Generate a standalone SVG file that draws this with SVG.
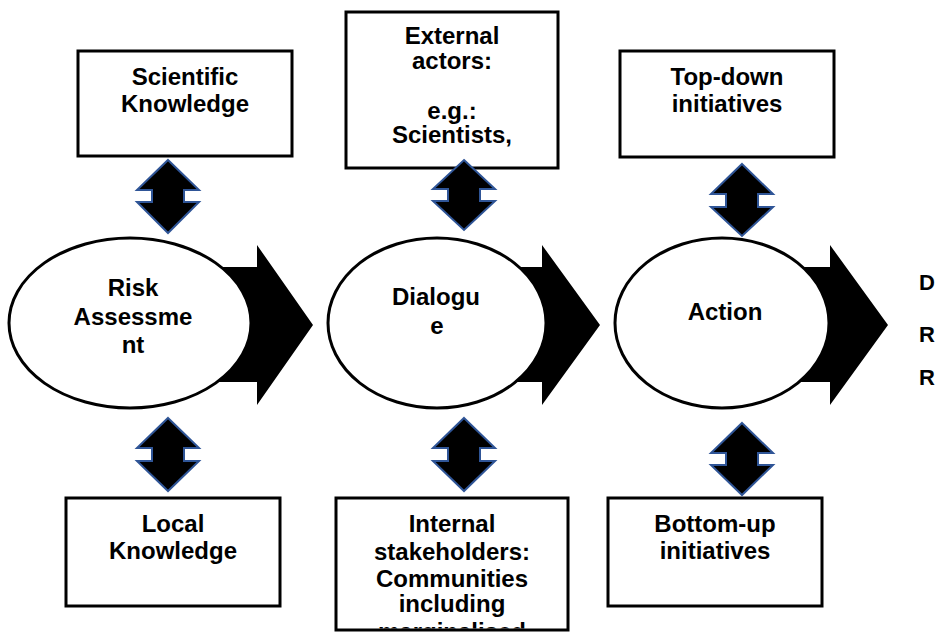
<svg xmlns="http://www.w3.org/2000/svg" width="941" height="638" viewBox="0 0 941 638">
  <defs>
    <style>
      .box { fill: #ffffff; stroke: #000000; stroke-width: 3; }
      .oval { fill: #ffffff; stroke: #000000; stroke-width: 3; }
      .flow { fill: #000000; stroke: none; }
      .link { fill: #000000; stroke: #2F5597; stroke-width: 2; stroke-linejoin: miter; }
      .lbl { font-family: "Liberation Sans", Arial, sans-serif; font-weight: bold; font-size: 24px; fill: #000000; text-anchor: middle; }
      .side { font-family: "Liberation Sans", Arial, sans-serif; font-weight: bold; font-size: 22px; fill: #000000; }
    </style>
    <clipPath id="clip-internal">
      <rect x="337.5" y="499.5" width="229" height="129"/>
    </clipPath>
  </defs>

  <!-- block arrows leading from each stage to the next -->
  <g id="flow-arrows">
    <polygon class="flow" points="130,267 257,267 257,245 313,325 257,405 257,382 130,382"/>
    <polygon class="flow" points="437,267 542,267 542,245 600,325 542,405 542,382 437,382"/>
    <polygon class="flow" points="722,267 830,267 830,245 888,325 830,405 830,382 722,382"/>
  </g>

  <!-- stage ovals -->
  <g id="risk-assessment">
    <ellipse class="oval" cx="130" cy="323" rx="121" ry="85"/>
    <text class="lbl" x="133" y="296">Risk</text>
    <text class="lbl" x="133" y="325">Assessme</text>
    <text class="lbl" x="133" y="353">nt</text>
  </g>
  <g id="dialogue">
    <ellipse class="oval" cx="437" cy="323" rx="109" ry="85"/>
    <text class="lbl" x="436" y="305">Dialogu</text>
    <text class="lbl" x="437" y="334">e</text>
  </g>
  <g id="action">
    <ellipse class="oval" cx="722" cy="323" rx="107" ry="85"/>
    <text class="lbl" x="725" y="320">Action</text>
  </g>

  <!-- upper boxes -->
  <g id="scientific-knowledge">
    <rect class="box" x="78" y="51" width="214" height="105"/>
    <text class="lbl" x="185" y="85">Scientific</text>
    <text class="lbl" x="185" y="112">Knowledge</text>
  </g>
  <g id="external-actors">
    <rect class="box" x="346" y="12" width="212" height="156"/>
    <text class="lbl" x="452" y="44">External</text>
    <text class="lbl" x="452" y="69">actors:</text>
    <text class="lbl" x="452" y="119">e.g.:</text>
    <text class="lbl" x="452" y="143">Scientists,</text>
  </g>
  <g id="top-down">
    <rect class="box" x="620" y="51" width="214" height="106"/>
    <text class="lbl" x="727" y="85">Top-down</text>
    <text class="lbl" x="727" y="112">initiatives</text>
  </g>

  <!-- lower boxes -->
  <g id="local-knowledge">
    <rect class="box" x="66" y="498" width="214" height="108"/>
    <text class="lbl" x="173" y="532">Local</text>
    <text class="lbl" x="173" y="559">Knowledge</text>
  </g>
  <g id="internal-stakeholders">
    <rect class="box" x="336" y="498" width="232" height="132"/>
    <g clip-path="url(#clip-internal)">
      <text class="lbl" x="452" y="532">Internal</text>
      <text class="lbl" x="452" y="560">stakeholders:</text>
      <text class="lbl" x="452" y="587">Communities</text>
      <text class="lbl" x="452" y="612">including</text>
      <text class="lbl" x="452" y="640">marginalised</text>
    </g>
  </g>
  <g id="bottom-up">
    <rect class="box" x="608" y="498" width="214" height="108"/>
    <text class="lbl" x="715" y="532">Bottom-up</text>
    <text class="lbl" x="715" y="559">initiatives</text>
  </g>

  <!-- outcome letters at the right edge -->
  <g id="outcomes">
    <text class="side" x="919" y="290">D</text>
    <text class="side" x="919" y="342">R</text>
    <text class="side" x="919" y="385">R</text>
  </g>

  <!-- two-way links between boxes and stages -->
  <g id="links">
    <polygon class="link" points="168,160 199,190 184,190 184,202 199,202 168,233 137,202 152,202 152,190 137,190"/>
    <polygon class="link" points="464,160 495,189 480,189 480,201 495,201 464,230 433,201 448,201 448,189 433,189"/>
    <polygon class="link" points="742,164 773,194 758,194 758,207 773,207 742,236 711,207 726,207 726,194 711,194"/>
    <polygon class="link" points="168,418 199,448 184,448 184,461 199,461 168,491 137,461 152,461 152,448 137,448"/>
    <polygon class="link" points="464,418 495,448 480,448 480,461 495,461 464,491 433,461 448,461 448,448 433,448"/>
    <polygon class="link" points="742,423 773,453 758,453 758,465 773,465 742,495 711,465 726,465 726,453 711,453"/>
  </g>
</svg>
